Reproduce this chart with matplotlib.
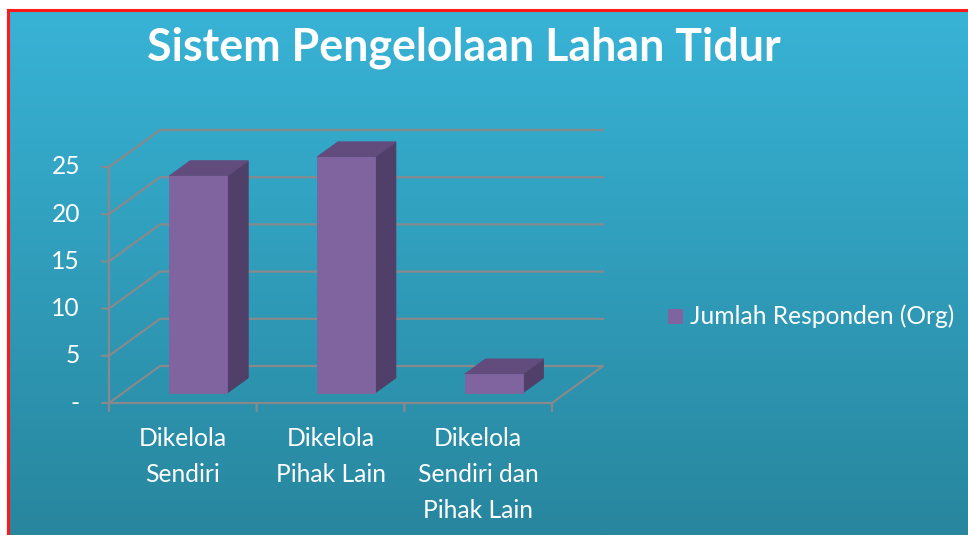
import numpy as np
import matplotlib
matplotlib.use("Agg")
import matplotlib.pyplot as plt
from matplotlib.patches import Polygon, Rectangle
from matplotlib.lines import Line2D

# ---- data ----
title = "Sistem Pengelolaan Lahan Tidur"
categories = ["Dikelola\nSendiri", "Dikelola\nPihak Lain", "Dikelola\nSendiri dan\nPihak Lain"]
values = [23, 25, 2]
series_name = "Jumlah Responden (Org)"
y_ticks = [0, 5, 10, 15, 20, 25]
y_tick_labels = ["-", "5", "10", "15", "20", "25"]

FONT = "Lato"
LBL = 17.7
W, H = 968, 535
fig = plt.figure(figsize=(W / 100, H / 100), dpi=100)
fig.patch.set_facecolor("white")

# background gradient panel
bg = fig.add_axes([8 / W, 0, 1 - 8 / W, (H - 10) / H])
top_c = np.array([56, 179, 214]) / 255
bot_c = np.array([40, 134, 158]) / 255
t = np.linspace(0, 1, 256)[:, None]
grad = (top_c[None, :] * (1 - t) + bot_c[None, :] * t)[:, None, :]
bg.imshow(grad, aspect="auto", extent=[0, 1, 0, 1], origin="upper")
bg.set_xlim(0, 1); bg.set_ylim(0, 1)
bg.axis("off")

# red border (left and top)
fig.add_artist(Line2D([8 / W, 8 / W], [0, (H - 10) / H], color="#ff1a1a", lw=2.2, transform=fig.transFigure))
fig.add_artist(Line2D([8 / W, 1], [(H - 10) / H, (H - 10) / H], color="#ff1a1a", lw=2.2, transform=fig.transFigure))

# front plane axes
x0px, x1px = 109, 552
y0px, y1px = 403, 167
ax = fig.add_axes([x0px / W, (H - y0px) / H, (x1px - x0px) / W, (y0px - y1px) / H])
ax.set_xlim(0, 3)
ax.set_ylim(0, 25)
ax.axis("off")
ax.patch.set_alpha(0)

DXpx, DYpx = 51, 37
DXu = DXpx / ((x1px - x0px) / 3)
DYu = DYpx / ((y0px - y1px) / 25)

def P(x, v, d):
    return (x + d * DXu, v + d * DYu)

grid_c = "#878a8c"
glw = 1.6
n = len(categories)
# gridlines (left wall diagonals + back wall)
for v in y_ticks:
    pts = [P(0, v, 0), P(0, v, 1), P(n, v, 1)]
    if v == 0:
        pts += [P(n, 0, 0), P(0, 0, 0)]
    xs, ys = zip(*pts)
    ax.add_line(Line2D(xs, ys, color=grid_c, lw=glw, clip_on=False, zorder=1))
# front vertical axis
ax.add_line(Line2D([0, 0], [0, 25], color=grid_c, lw=glw, clip_on=False, zorder=1))
# y ticks (left) and labels
for v, lab in zip(y_ticks, y_tick_labels):
    ax.annotate("", xy=(0, v), xytext=(-7, 0), textcoords="offset pixels",
                arrowprops=dict(arrowstyle="-", color=grid_c, lw=glw, shrinkA=0, shrinkB=0))
    ax.annotate(lab, xy=(0, v), xytext=(-29, 0), textcoords="offset pixels",
                ha="right", va="center", color="white", fontsize=LBL, family=FONT)
# x ticks (down)
for i in range(n + 1):
    ax.annotate("", xy=(i, 0), xytext=(0, -8), textcoords="offset pixels",
                arrowprops=dict(arrowstyle="-", color=grid_c, lw=glw, shrinkA=0, shrinkB=0))
# category labels
for i, c in enumerate(categories):
    ax.annotate(c, xy=(i + 0.5, 0), xytext=(0, -24), textcoords="offset pixels",
                ha="center", va="top", color="white", fontsize=LBL, family=FONT,
                linespacing=1.68)

# bars
front_c = "#7f64a0"
side_c = "#503f68"
top_cc = "#624c7e"
bw = 0.393
bx = 0.315
d0, d1 = 0.27, 0.68
for i, v in enumerate(values):
    xa, xb = i + bx, i + bx + bw
    side = [P(xb, 0, d0), P(xb, 0, d1), P(xb, v, d1), P(xb, v, d0)]
    topf = [P(xa, v, d0), P(xb, v, d0), P(xb, v, d1), P(xa, v, d1)]
    front = [P(xa, 0, d0), P(xb, 0, d0), P(xb, v, d0), P(xa, v, d0)]
    for poly, col in ((side, side_c), (topf, top_cc), (front, front_c)):
        ax.add_patch(Polygon(poly, closed=True, facecolor=col, edgecolor=col,
                             lw=0.6, clip_on=False, zorder=3))

# legend
fig.add_artist(Rectangle((668 / W, (H - 324) / H), 15 / W, 15 / H, facecolor=front_c,
                         edgecolor="none", transform=fig.transFigure))
fig.text(690 / W, (H - 316) / H, series_name, ha="left", va="center", color="white",
         fontsize=LBL, family=FONT)

# title
fig.text(464 / W, (H - 48) / H, title, ha="center", va="center", color="white",
         fontsize=32.2, fontweight="bold", family=FONT)

fig.savefig("out.png", dpi=100, facecolor=fig.get_facecolor())
